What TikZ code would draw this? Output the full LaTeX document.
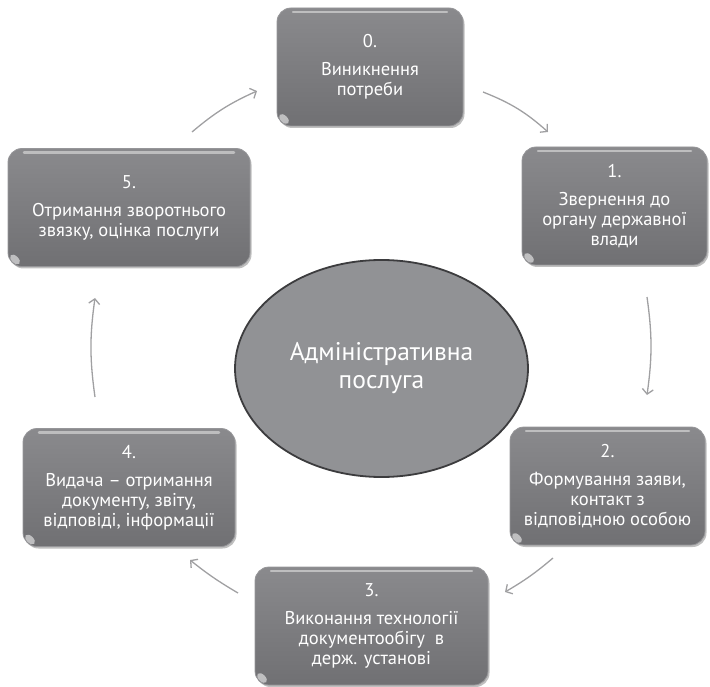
\documentclass[tikz,border=0pt]{standalone}
\usepackage{fontspec}
\setmainfont{PT Sans}
\usetikzlibrary{arrows.meta,shapes.geometric,shadows}

\definecolor{boxtop}{RGB}{138,138,141}
\definecolor{boxbot}{RGB}{112,112,115}
\definecolor{boxedge}{RGB}{150,150,153}
\definecolor{hubfill}{RGB}{145,146,149}
\definecolor{hubedge}{RGB}{60,60,62}
\definecolor{arrowgray}{RGB}{160,160,162}

\begin{document}
\begin{tikzpicture}[
  x=1pt, y=-1pt,
  stepbox/.style={rounded corners=14pt, align=center, minimum height=118pt, inner sep=4pt,
    font=\fontsize{18.5}{20}\selectfont, text=white,
    top color=boxtop, bottom color=boxbot, draw=boxedge, line width=0.8pt,
    drop shadow={shadow xshift=1.5pt, shadow yshift=-2pt, opacity=0.25, fill=black},
    path picture={
      \draw[white, opacity=0.45, line width=2.5pt, line cap=round]
        ([xshift=16pt,yshift=-4pt]path picture bounding box.north west) --
        ([xshift=-16pt,yshift=-4pt]path picture bounding box.north east);
      \fill[white, opacity=0.55]
        ([xshift=7pt,yshift=7pt]path picture bounding box.south west)
        ellipse [x radius=6pt, y radius=3.5pt, rotate=-45];
    }},
  hub/.style={ellipse, fill=hubfill, draw=hubedge, line width=1.8pt,
    minimum width=293pt, minimum height=217pt, align=center, text=white,
    font=\fontsize{25.5}{28}\selectfont},
  arrow/.style={-{Straight Barb[length=5pt,width=11pt]}, line width=1.3pt, draw=arrowgray}
]
\useasboundingbox (0,0) rectangle (710,687);

\node[hub] (core) at (381.5,368.5) {Адміністративна\\послуга};

\node[stepbox, minimum width=186pt] (need) at (370,67) {0.\\[8pt]Виникнення\\потреби};
\node[stepbox, minimum width=185pt] (appeal) at (614.5,206) {1.\\[8pt]Звернення до\\органу державної\\влади};
\node[stepbox, minimum width=195pt] (request) at (607.5,486) {2.\\[8pt]Формування заяви,\\контакт з\\відповідною особою};
\node[stepbox, minimum width=233pt] (process) at (371.5,626) {3.\\[8pt]Виконання технології\\документообігу\ \ в\\держ. установі};
\node[stepbox, minimum width=212pt] (issue) at (129,487.5) {4.\\[8pt]Видача – отримання\\документу, звіту,\\відповіді, інформації};
\node[stepbox, minimum width=242pt] (review) at (129,207.5) {5.\\[8pt]Отримання зворотнього\\звязку, оцінка послуги};

% arrow ends
\coordinate (a01s) at (483,92);   \coordinate (a01e) at (548,132);
\coordinate (a12s) at (647,297);  \coordinate (a12e) at (647,395);
\coordinate (a23s) at (553,558);  \coordinate (a23e) at (505,592);
\coordinate (a34s) at (238,593);  \coordinate (a34e) at (190,560);
\coordinate (a45s) at (95,397);   \coordinate (a45e) at (95,298);
\coordinate (a50s) at (192,132);  \coordinate (a50e) at (257,91);

\draw[arrow] (a01s) to[bend left=10] (a01e);
\draw[arrow] (a12s) to[bend left=8] (a12e);
\draw[arrow] (a23s) to[bend left=5] (a23e);
\draw[arrow] (a34s) to[bend left=4] (a34e);
\draw[arrow] (a45s) to[bend left=8] (a45e);
\draw[arrow] (a50s) to[bend left=8] (a50e);
\end{tikzpicture}
\end{document}
